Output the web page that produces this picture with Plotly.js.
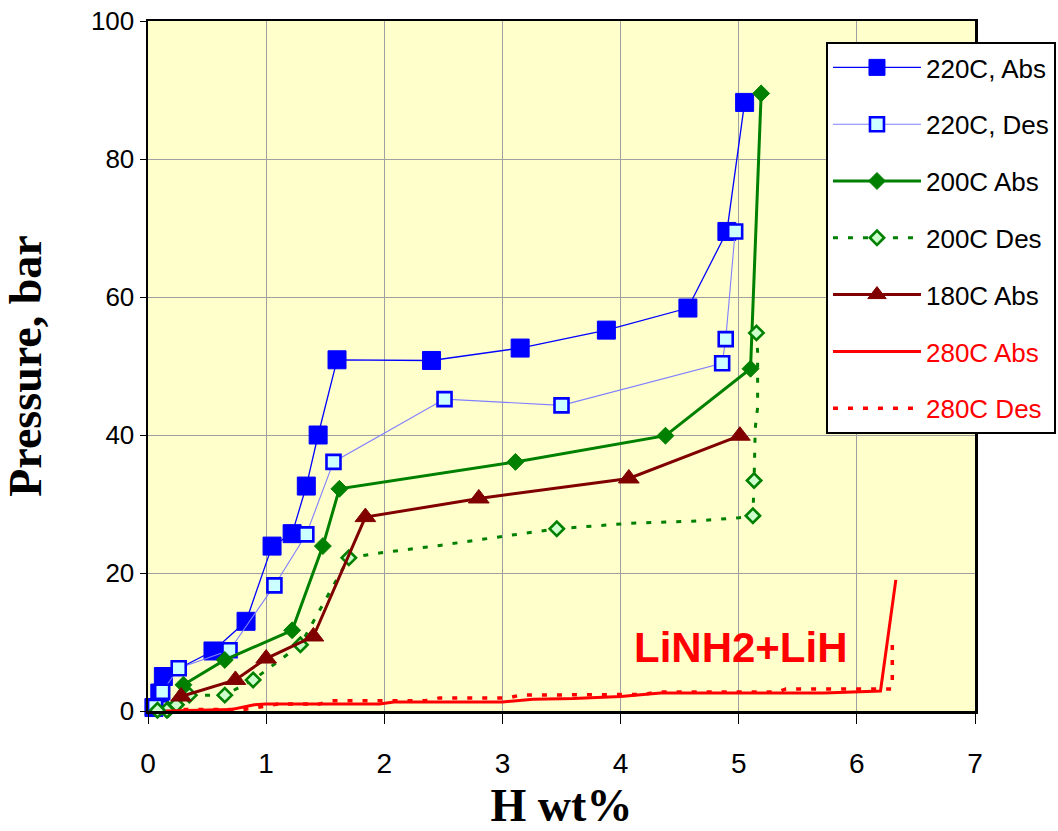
<!DOCTYPE html>
<html>
<head>
<meta charset="utf-8">
<script src="https://cdn.plot.ly/plotly-3.0.1.min.js"></script>
<style>
  html, body { margin: 0; padding: 0; background: #ffffff; }
  #chart { width: 1058px; height: 831px; }
</style>
</head>
<body>
<div id="chart"></div>
<script>
// ---- Data ----
const abs220_x = [0.05, 0.10, 0.13, 0.55, 0.83, 1.05, 1.22, 1.34, 1.44, 1.60, 2.40, 3.15, 3.88, 4.57, 4.90, 5.05];
const abs220_y = [0.5, 2.6, 5.0, 8.7, 13.0, 23.9, 25.7, 32.6, 40.0, 50.9, 50.8, 52.6, 55.2, 58.4, 69.5, 88.2];

const des220_x = [4.97, 4.89, 4.86, 3.50, 2.51, 1.57, 1.34, 1.07, 0.69, 0.26, 0.12, 0.06];
const des220_y = [69.5, 53.9, 50.4, 44.3, 45.2, 36.1, 25.6, 18.2, 8.8, 6.2, 2.8, 0.6];

const abs200_x = [0.17, 0.30, 0.65, 1.22, 1.48, 1.62, 3.11, 4.38, 5.10, 5.19];
const abs200_y = [0.2, 3.8, 7.4, 11.7, 23.9, 32.2, 36.1, 39.9, 49.6, 89.5];

// 200C desorption: measured points (markers) and the dotted curve through them
const des200_x = [5.15, 5.13, 5.12, 3.46, 1.70, 1.29, 0.89, 0.65, 0.35, 0.24, 0.16, 0.08];
const des200_y = [54.8, 33.4, 28.3, 26.4, 22.2, 9.6, 4.5, 2.3, 2.3, 0.9, 0.1, 0.1];
const des200_curve_x = [5.15, 5.16, 5.16, 5.14, 5.13, 5.12, 5.0, 4.6, 4.07, 3.68, 3.46, 3.0, 2.47, 1.96, 1.70, 1.29, 0.89, 0.65, 0.35, 0.24, 0.16, 0.08];
const des200_curve_y = [54.8, 52.0, 44.0, 41.0, 33.4, 28.3, 28.0, 27.5, 27.2, 26.7, 26.4, 25.3, 24.0, 22.9, 22.2, 9.6, 4.5, 2.3, 2.3, 0.9, 0.1, 0.1];

const abs180_x = [0.28, 0.74, 1.00, 1.40, 1.84, 2.80, 4.07, 5.01];
const abs180_y = [2.1, 4.5, 7.6, 10.8, 28.1, 30.8, 33.7, 39.9];

const abs280_x = [0.15, 0.70, 0.90, 1.00, 1.96, 2.08, 3.00, 3.26, 3.60, 4.00, 4.34, 5.72, 6.20, 6.33];
const abs280_y = [0.0, 0.2, 0.9, 1.0, 1.0, 1.3, 1.3, 1.7, 1.8, 2.1, 2.6, 2.6, 2.9, 19.0];

const des280_x = [0.30, 0.80, 1.10, 1.45, 1.55, 2.35, 2.47, 3.05, 3.15, 4.20, 4.30, 5.33, 5.40, 6.30, 6.30];
const des280_y = [0.2, 0.2, 1.0, 1.0, 1.5, 1.5, 1.9, 1.9, 2.3, 2.4, 2.75, 2.75, 3.2, 3.2, 10.0];

const seriesNames = ['220C, Abs', '220C, Des', '200C Abs', '200C Des', '180C Abs', '280C Abs', '280C Des'];
const xTicks = [0, 1, 2, 3, 4, 5, 6, 7];
const yTicks = [0, 20, 40, 60, 80, 100];
const noteText = 'LiNH2+LiH';
const xTitle = 'H wt%';
const yTitle = 'Pressure, bar';

// ---- Styles ----
const BLUE = '#0000FF', LBLUE = '#7F7FFF', GREEN = '#008000', MAROON = '#800000', RED = '#FF0000';
const dot = '5px,10px';

const traces = [
  { x: abs220_x, y: abs220_y, name: seriesNames[0], legendgroup: 'g1', mode: 'lines+markers',
    line: { color: BLUE, width: 1.3 },
    marker: { symbol: 'square', size: 18, color: BLUE, line: { color: BLUE, width: 1 } } },
  { x: des220_x, y: des220_y, name: seriesNames[1], legendgroup: 'g2', mode: 'lines+markers',
    line: { color: LBLUE, width: 1.1 },
    marker: { symbol: 'square', size: 14, color: '#CCFFFF', line: { color: BLUE, width: 2.6 } } },
  { x: abs200_x, y: abs200_y, name: seriesNames[2], legendgroup: 'g3', mode: 'lines+markers',
    line: { color: GREEN, width: 3 },
    marker: { symbol: 'diamond', size: 13, color: GREEN, line: { color: GREEN, width: 1 } } },
  { x: des200_curve_x, y: des200_curve_y, name: seriesNames[3], legendgroup: 'g4', showlegend: false, mode: 'lines',
    line: { color: GREEN, width: 3, dash: dot } },
  { x: des200_x, y: des200_y, name: seriesNames[3], legendgroup: 'g4', showlegend: false, mode: 'markers',
    marker: { symbol: 'diamond', size: 11, color: '#CCFFCC', line: { color: GREEN, width: 2.6 } } },
  { x: [null], y: [null], name: seriesNames[3], legendgroup: 'g4', mode: 'lines+markers',
    line: { color: GREEN, width: 3, dash: dot },
    marker: { symbol: 'diamond', size: 11, color: '#CCFFCC', line: { color: GREEN, width: 2.6 } } },
  { x: abs180_x, y: abs180_y, name: seriesNames[4], legendgroup: 'g5', mode: 'lines+markers',
    line: { color: MAROON, width: 3 },
    marker: { symbol: 'triangle-up', size: 18, color: MAROON, line: { color: MAROON, width: 1 } } },
  { x: abs280_x, y: abs280_y, name: '<span style="color:#FF0000">' + seriesNames[5] + '</span>', legendgroup: 'g6', mode: 'lines',
    line: { color: RED, width: 3 } },
  { x: des280_x, y: des280_y, name: '<span style="color:#FF0000">' + seriesNames[6] + '</span>', legendgroup: 'g7', mode: 'lines',
    line: { color: RED, width: 3.5, dash: dot } }
];
traces.forEach(t => { t.cliponaxis = false; t.hoverinfo = 'x+y+name'; });

const layout = {
  width: 1058, height: 831,
  margin: { l: 148, r: 83, t: 21, b: 120, pad: 0, autoexpand: false },
  paper_bgcolor: '#FFFFFF',
  plot_bgcolor: '#FFFFCC',
  font: { family: 'Liberation Sans, Arial, sans-serif', color: '#000000', size: 26 },
  showlegend: true,
  legend: {
    x: 0.8198, y: 0.9696, xanchor: 'left', yanchor: 'top',
    bgcolor: '#FFFFFF', bordercolor: '#000000', borderwidth: 2,
    font: { family: 'Liberation Sans, Arial, sans-serif', size: 26, color: '#000000' },
    traceorder: 'grouped', tracegroupgap: 20, itemwidth: 88, itemsizing: 'trace'
  },
  xaxis: {
    range: [0, 7], tickvals: xTicks, ticktext: xTicks.map(String),
    showgrid: true, gridcolor: '#A0A0A0', gridwidth: 1, zeroline: false,
    showline: true, linecolor: '#000000', linewidth: 2.5, mirror: true,
    ticks: 'outside', ticklen: 10, tickwidth: 1, tickcolor: '#000000',
    ticklabelstandoff: 16, automargin: false,
    tickfont: { family: 'Liberation Sans, Arial, sans-serif', size: 28 },
    title: { text: xTitle, font: { family: 'Liberation Serif, Times New Roman, serif', size: 46, weight: 'bold' }, standoff: 22 }
  },
  yaxis: {
    range: [0, 100], tickvals: yTicks, ticktext: yTicks.map(String),
    showgrid: true, gridcolor: '#A0A0A0', gridwidth: 1, zeroline: false,
    showline: true, linecolor: '#000000', linewidth: 2.5, mirror: true,
    ticks: 'outside', ticklen: 6, tickwidth: 1, tickcolor: '#000000', automargin: false,
    tickfont: { family: 'Liberation Sans, Arial, sans-serif', size: 26 },
    title: { text: yTitle, font: { family: 'Liberation Serif, Times New Roman, serif', size: 46, weight: 'bold' }, standoff: 40 }
  },
  annotations: [{
    x: 5.02, y: 9.2, xref: 'x', yref: 'y', text: noteText, showarrow: false,
    font: { family: 'Liberation Sans, Arial, sans-serif', size: 42, color: RED, weight: 'bold' }
  }]
};

Plotly.newPlot('chart', traces, layout, { displayModeBar: false, staticPlot: true });
</script>
</body>
</html>
